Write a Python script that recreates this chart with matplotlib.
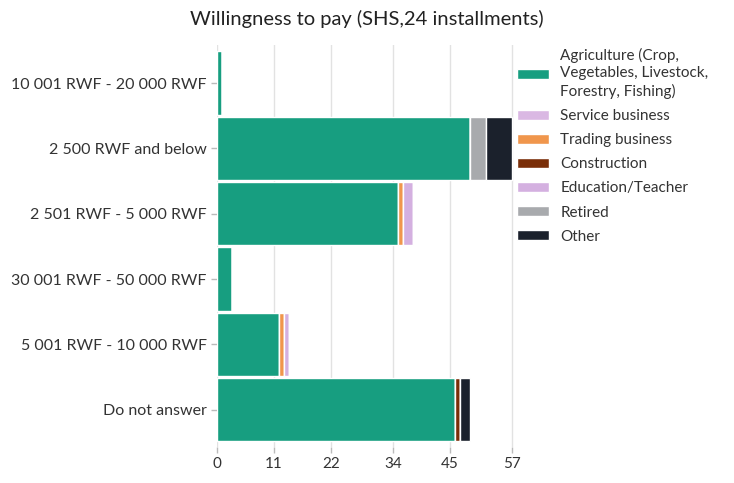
import numpy as np
import matplotlib
matplotlib.use("Agg")
import matplotlib.pyplot as plt

plt.rcParams['font.family'] = ['Lato', 'DejaVu Sans']

categories = [
    "10 001 RWF - 20 000 RWF",
    "2 500 RWF and below",
    "2 501 RWF - 5 000 RWF",
    "30 001 RWF - 50 000 RWF",
    "5 001 RWF - 10 000 RWF",
    "Do not answer",
]

series_names = [
    "Agriculture (Crop,\nVegetables, Livestock,\nForestry, Fishing)",
    "Service business",
    "Trading business",
    "Construction",
    "Education/Teacher",
    "Retired",
    "Other",
]

agriculture = [1, 49, 35, 3, 12, 46]
service = [0, 0, 0, 0, 0, 0]
trading = [0, 0, 1, 0, 1, 0]
construction = [0, 0, 0, 0, 0, 1]
education = [0, 0, 2, 0, 1, 0]
retired = [0, 3, 0, 0, 0, 0]
other = [0, 5, 0, 0, 0, 2]

x_ticks = [0, 11, 22, 34, 45, 57]

colors = ["#179e80", "#dab8e3", "#f0964c", "#7a2e08", "#d4b0e0", "#a8aaad", "#1b212c"]

series = [agriculture, service, trading, construction, education, retired, other]

fig = plt.figure(figsize=(7.34, 4.83), dpi=100)
ax = fig.add_axes([0.2956, 0.0745, 0.405, 0.832])

y = np.arange(len(categories))
left = np.zeros(len(categories))
handles = []
for name, vals, col in zip(series_names, series, colors):
    vals = np.array(vals, dtype=float)
    b = ax.barh(y, vals, left=left, height=0.97, color=col, edgecolor="white",
                linewidth=1.0, label=name, zorder=3)
    handles.append(b)
    left += vals

ax.set_xlim(0, 57.5)
ax.set_ylim(5.57, -0.58)
ax.set_yticks(y)
ax.set_yticklabels(categories, fontsize=11.5, color="#333333")
ax.set_xticks(x_ticks)
ax.set_xticklabels([str(t) for t in x_ticks], fontsize=11, color="#333333")
ax.grid(axis="x", color="#e2e2e2", linewidth=1, zorder=0)
for s in ax.spines.values():
    s.set_visible(False)
ax.tick_params(axis="both", length=4, color="#bbbbbb", width=1)

fig.suptitle("Willingness to pay (SHS,24 installments)", fontsize=14.5,
             color="#222222", x=0.5, y=0.98)

leg = ax.legend(handles=handles, loc="upper left", bbox_to_anchor=(0.99, 1.008),
                frameon=False, fontsize=11, handlelength=2.1, handleheight=0.6,
                labelspacing=0.66, handletextpad=0.7, borderaxespad=0.0)
for t in leg.get_texts():
    t.set_color("#333333")
    t.set_linespacing(1.3)

fig.savefig("out.png", dpi=100)
